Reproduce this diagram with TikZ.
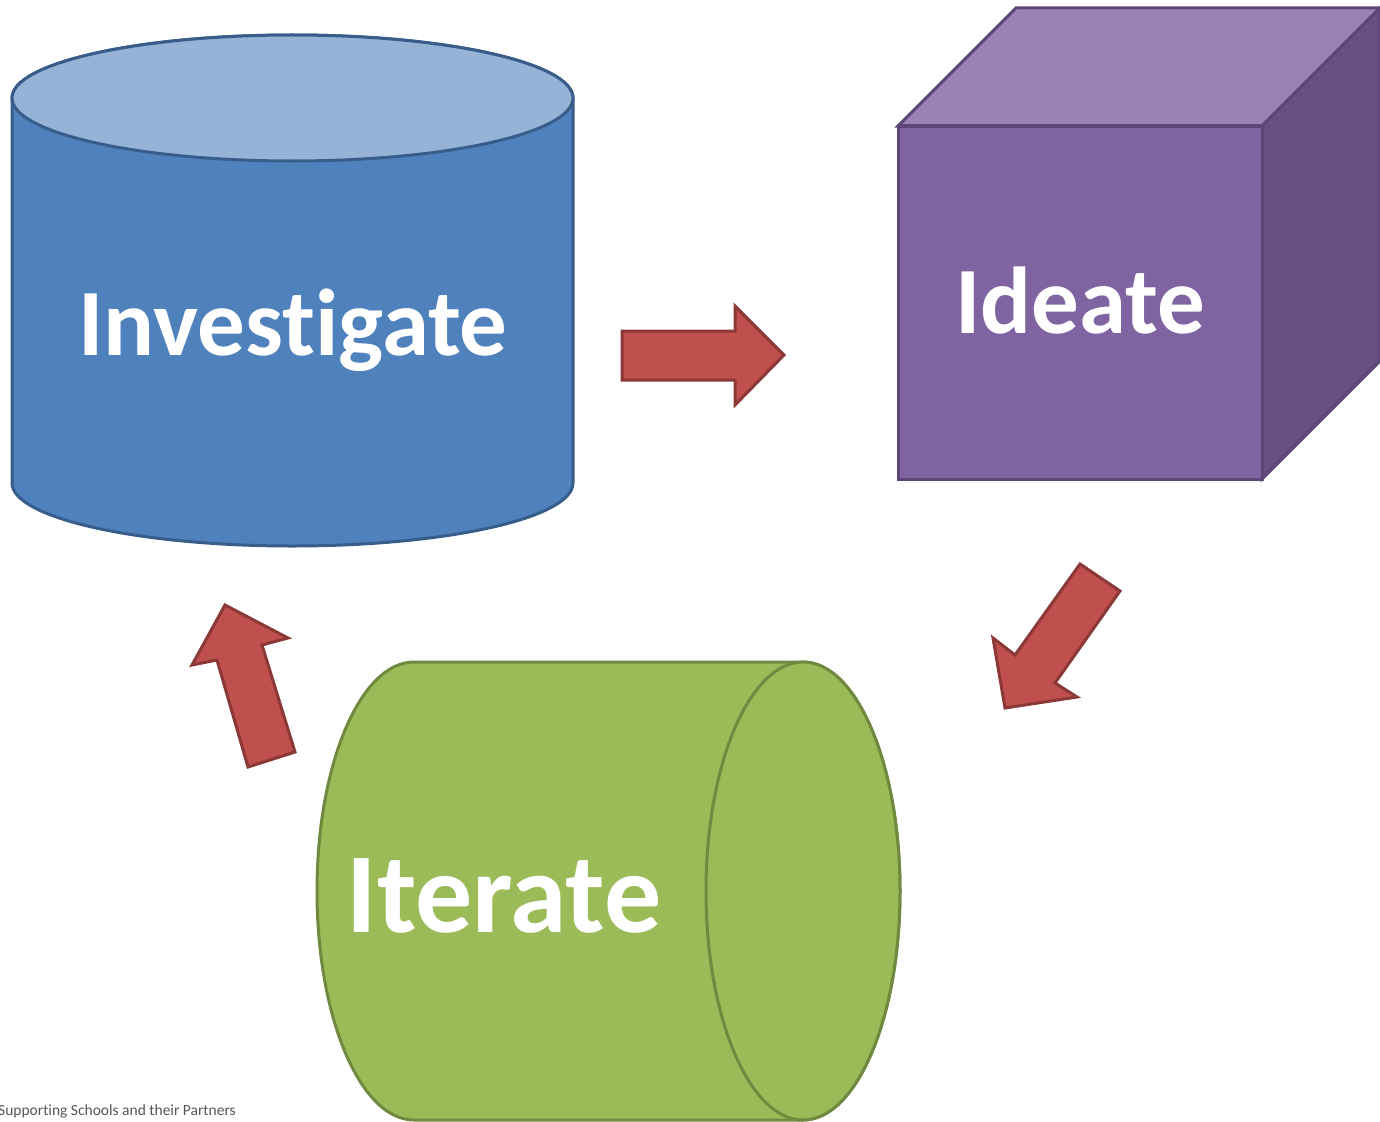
\documentclass[tikz,border=0pt]{standalone}
\usepackage{fontspec}
\setmainfont[Ligatures=NoCommon]{Carlito}
\definecolor{cylside}{HTML}{4F81BD}
\definecolor{cyltop}{HTML}{95B3D7}
\definecolor{cylline}{HTML}{385D8A}
\definecolor{cubefront}{HTML}{8064A2}
\definecolor{cubetop}{HTML}{9983B5}
\definecolor{cuberight}{HTML}{664F82}
\definecolor{cubeline}{HTML}{5C4776}
\definecolor{itfill}{HTML}{9BBB59}
\definecolor{itline}{HTML}{71893F}
\definecolor{arrfill}{HTML}{C0504D}
\definecolor{arrline}{HTML}{8C3836}
\definecolor{foot}{HTML}{555555}
\tikzset{
  blockarrow/.style={fill=arrfill,draw=arrline,line width=3pt,line join=miter},
  bigtext/.style={text=white,font=\bfseries\fontsize{95}{100}\selectfont,inner sep=0pt,anchor=base},
}
\begin{document}
\begin{tikzpicture}[x=1pt,y=1pt]
\useasboundingbox (0,0) rectangle (1380,-1121);
% Investigate cylinder
\filldraw[fill=cylside,draw=cylline,line width=3pt]
  (12,-98) -- (12,-483) arc[start angle=180,end angle=360,x radius=280.5,y radius=63]
  -- (573,-98) arc[start angle=0,end angle=180,x radius=280.5,y radius=63] -- cycle;
\filldraw[fill=cyltop,draw=cylline,line width=3pt] (292.5,-98) ellipse[x radius=280.5,y radius=63];
\node[bigtext] (inv) at (293,-355) {Investigate};
% Ideate cube
\filldraw[fill=cubetop,draw=cubeline,line width=3pt,line join=miter]
  (898,-126) -- (1016,-8) -- (1380,-8) -- (1262,-126) -- cycle;
\filldraw[fill=cuberight,draw=cubeline,line width=3pt,line join=miter]
  (1262,-126) -- (1380,-8) -- (1380,-361) -- (1262,-479) -- cycle;
\filldraw[fill=cubefront,draw=cubeline,line width=3pt,line join=miter]
  (898,-126) rectangle (1262,-479);
\node[bigtext] (ide) at (1080,-333) {Ideate};
% Iterate cylinder
\filldraw[fill=itfill,draw=itline,line width=3pt]
  (414,-662) -- (803,-662) arc[start angle=90,end angle=-90,x radius=97,y radius=229]
  -- (414,-1120) arc[start angle=270,end angle=90,x radius=97,y radius=229] -- cycle;
\filldraw[fill=itfill,draw=itline,line width=3pt] (803,-891) ellipse[x radius=97,y radius=229];
\node[bigtext,font=\bfseries\fontsize{114}{120}\selectfont] (ite) at (504,-932) {Iterate};
% arrows
\filldraw[blockarrow] (622,-331) -- (735,-331) -- (735,-306) -- (784,-355) -- (735,-405) -- (735,-380) -- (622,-380) -- cycle;
\filldraw[blockarrow] (1080,-564) -- (1120,-591) -- (1055,-683) -- (1077,-697) -- (1005,-708) -- (993,-638) -- (1015,-655) -- cycle;
\filldraw[blockarrow] (248,-767) -- (295,-752) -- (262,-645) -- (288,-638) -- (225,-605) -- (192,-665) -- (217,-660) -- cycle;
% footer
\node[anchor=base west,inner sep=0pt,text=foot,font=\fontsize{15.5}{17}\selectfont] (foot) at (-2,-1115) {Supporting Schools and their Partners};
\end{tikzpicture}
\end{document}
